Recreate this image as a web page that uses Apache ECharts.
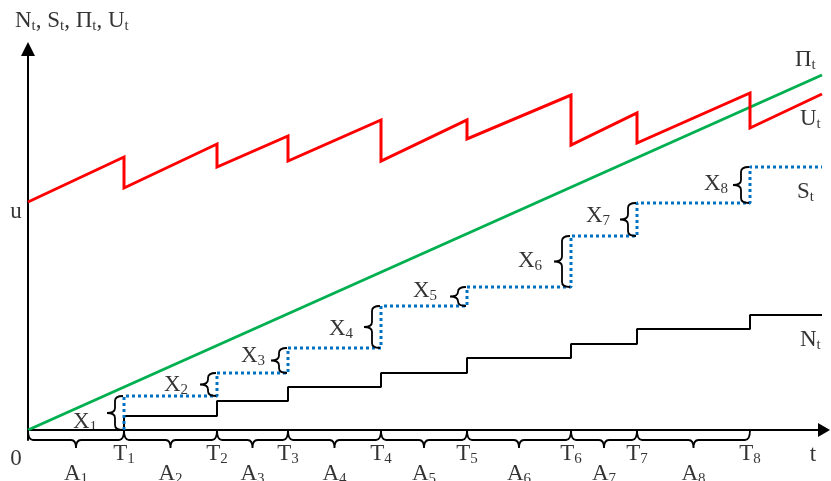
<!DOCTYPE html>
<html><head><meta charset="utf-8">
<script src="https://cdn.jsdelivr.net/npm/echarts@6/dist/echarts.min.js"></script>
<style>html,body{margin:0;padding:0;background:#fff}#c{width:831px;height:481px}</style>
</head><body><div id="c"></div>
<script>
// ---------------- data (time units along t, amount units along the vertical) ----------------
const claimTimes = [96, 189, 260, 353, 439, 543, 609, 722];          // T1..T8
const tEnd = 794;                                                     // end of the drawn horizon
const claimCountLevels = [0, 14, 29, 43, 57, 72, 86, 101, 115];       // N_t
const aggregateClaimLevels = [0, 34, 57, 82, 124, 143, 194, 227, 263]; // S_t
const premiumStart = 0;                                               // Π_0
const premiumEnd = 355;                                               // Π at tEnd
const initialCapital = 228;                                           // u
const surplusBeforeClaim = [273, 286, 294, 310, 310, 335, 317, 337];  // U_t just before T_i
const surplusAfterClaim  = [242, 263, 269, 269, 291, 285, 287, 302];  // U_t just after T_i
const surplusEnd = 336;                                               // U at tEnd
const timeTickLabels = ['T1','T2','T3','T4','T5','T6','T7','T8'];
const intervalLabels = ['A1','A2','A3','A4','A5','A6','A7','A8'];
const claimSizeLabels = ['X1','X2','X3','X4','X5','X6','X7','X8'];
const seriesLabels = { N: 'N', S: 'S', P: 'Π', U: 'U' };
const yAxisTitle = ['N', 'S', 'Π', 'U'];

// ---------------- build series geometry from data ----------------
const nPts = [[0, claimCountLevels[0]]];
const sPts = [];
const uPts = [[0, initialCapital]];
claimTimes.forEach((t, i) => {
  nPts.push([t, claimCountLevels[i]], [t, claimCountLevels[i + 1]]);
  sPts.push([t, aggregateClaimLevels[i]], [t, aggregateClaimLevels[i + 1]]);
  uPts.push([t, surplusBeforeClaim[i]], [t, surplusAfterClaim[i]]);
});
nPts.push([tEnd, claimCountLevels[claimCountLevels.length - 1]]);
sPts.push([tEnd, aggregateClaimLevels[aggregateClaimLevels.length - 1]]);
uPts.push([tEnd, surplusEnd]);
const pPts = [[0, premiumStart], [tEnd, premiumEnd]];

// ---------------- layout / style ----------------
const FONT = 'Liberation Serif';
const rich = {
  m: { fontFamily: FONT, fontSize: 23, lineHeight: 26, verticalAlign: 'middle', color: '#000' },
  s: { fontFamily: FONT, fontSize: 15, lineHeight: 15, verticalAlign: 'bottom', color: '#000' }
};
function fmtSub(main, sub) { return '{m|' + main + '}' + (sub ? '{s|' + sub + '}' : ''); }
function lab(x, y, text, dx, dy, align) {
  return { value: [x, y], label: { formatter: text, offset: [dx, dy], align: align || 'center' } };
}
const xLabelDx = [-27, -29, -23, -28, -30, -29, -27, -22];
const xLabelDy = [9, 0, -5, 2, -6, -1, -4, -1];

const labels = [];
labels.push(lab(0, 381, yAxisTitle.map(c => fmtSub(c, 't')).join('{m|, }'), -13, -28, 'left'));
labels.push(lab(0, 0, fmtSub('0'), -12, 29));
labels.push(lab(0, initialCapital, fmtSub('u'), -12, 10));
labels.push(lab(tEnd, 0, fmtSub('t'), -9, 25));
claimTimes.forEach((t, i) => {
  labels.push(lab(t, 0, fmtSub(timeTickLabels[i][0], timeTickLabels[i].slice(1)), 0, 24));
  const prev = i === 0 ? 0 : claimTimes[i - 1];
  labels.push(lab((prev + t) / 2, 0, fmtSub(intervalLabels[i][0], intervalLabels[i].slice(1)), 0, 43.5));
  const mid = (aggregateClaimLevels[i] + aggregateClaimLevels[i + 1]) / 2;
  labels.push(lab(t, mid, fmtSub(claimSizeLabels[i][0], claimSizeLabels[i].slice(1)), xLabelDx[i], xLabelDy[i], 'right'));
});
labels.push(lab(tEnd, premiumEnd, fmtSub(seriesLabels.P, 't'), -27, -15, 'left'));
labels.push(lab(tEnd, surplusEnd, fmtSub(seriesLabels.U, 't'), -22, 25, 'left'));
labels.push(lab(tEnd, aggregateClaimLevels[8], fmtSub(seriesLabels.S, 't'), -25, 25, 'left'));
labels.push(lab(tEnd, claimCountLevels[8], fmtSub(seriesLabels.N, 't'), -22, 25, 'left'));

const intervals = claimTimes.map((t, i) => [i === 0 ? 0 : claimTimes[i - 1], t]);
const jumps = claimTimes.map((t, i) => [t, aggregateClaimLevels[i], aggregateClaimLevels[i + 1]]);

const chart = echarts.init(document.getElementById('c'), null, { renderer: 'canvas' });
chart.setOption({
  animation: false,
  backgroundColor: '#fff',
  grid: { left: 28, right: 7, top: 49, bottom: 41, containLabel: false },
  xAxis: {
    type: 'value', min: 0, max: 796,
    axisLine: { show: true, onZero: true, symbol: ['none', 'triangle'], symbolSize: [14, 12], lineStyle: { color: '#000', width: 2 } },
    axisTick: { show: false }, axisLabel: { show: false }, splitLine: { show: false }
  },
  yAxis: {
    type: 'value', min: -10, max: 381,
    axisLine: { show: true, onZero: true, symbol: ['none', 'triangle'], symbolSize: [14, 14], lineStyle: { color: '#000', width: 2 } },
    axisTick: { show: false }, axisLabel: { show: false }, splitLine: { show: false }
  },
  series: [
    { type: 'line', data: nPts, showSymbol: false, silent: true, z: 3,
      lineStyle: { color: '#000', width: 2 } },
    { type: 'line', data: pPts, showSymbol: false, silent: true, z: 4,
      lineStyle: { color: '#00B050', width: 3 } },
    { type: 'line', data: sPts, showSymbol: false, silent: true, z: 5,
      lineStyle: { color: '#0070C0', width: 3, type: [3, 3], cap: 'butt' } },
    { type: 'line', data: uPts, showSymbol: false, silent: true, z: 6,
      lineStyle: { color: '#FF0000', width: 3, join: 'miter' } },
    { type: 'custom', silent: true, z: 7, data: intervals,
      renderItem: function (params, api) {
        const a = api.coord([api.value(0), 0]);
        const b = api.coord([api.value(1), 0]);
        const y0 = a[1], x1 = a[0], x2 = b[0], xm = (x1 + x2) / 2, r = 5;
        const d = 'M' + x1 + ' ' + y0 + ' Q' + x1 + ' ' + (y0 + 10) + ' ' + (x1 + r) + ' ' + (y0 + 10) +
          ' L' + (xm - r) + ' ' + (y0 + 10) + ' Q' + xm + ' ' + (y0 + 10) + ' ' + xm + ' ' + (y0 + 18) +
          ' Q' + xm + ' ' + (y0 + 10) + ' ' + (xm + r) + ' ' + (y0 + 10) +
          ' L' + (x2 - r) + ' ' + (y0 + 10) + ' Q' + x2 + ' ' + (y0 + 10) + ' ' + x2 + ' ' + y0;
        return { type: 'path', shape: { pathData: d }, style: { stroke: '#000', fill: 'none', lineWidth: 1.8 } };
      } },
    { type: 'custom', silent: true, z: 7, data: jumps,
      renderItem: function (params, api) {
        const b = api.coord([api.value(0), api.value(1)]);
        const t = api.coord([api.value(0), api.value(2)]);
        const x0 = b[0] - 1, yb = b[1], yt = t[1], ym = (yb + yt) / 2;
        const r = Math.min(5, (yb - yt) / 4), xa = x0 - 8, xt = x0 - 16;
        const d = 'M' + x0 + ' ' + yt + ' Q' + xa + ' ' + yt + ' ' + xa + ' ' + (yt + r) +
          ' L' + xa + ' ' + (ym - r) + ' Q' + xa + ' ' + ym + ' ' + xt + ' ' + ym +
          ' Q' + xa + ' ' + ym + ' ' + xa + ' ' + (ym + r) +
          ' L' + xa + ' ' + (yb - r) + ' Q' + xa + ' ' + yb + ' ' + x0 + ' ' + yb;
        return { type: 'path', shape: { pathData: d }, style: { stroke: '#000', fill: 'none', lineWidth: 1.8 } };
      } },
    { type: 'scatter', silent: true, symbolSize: 0, z: 10, data: labels,
      label: { show: true, position: 'inside', verticalAlign: 'middle', rich: rich, color: '#000' } }
  ]
});
</script>
</body></html>
